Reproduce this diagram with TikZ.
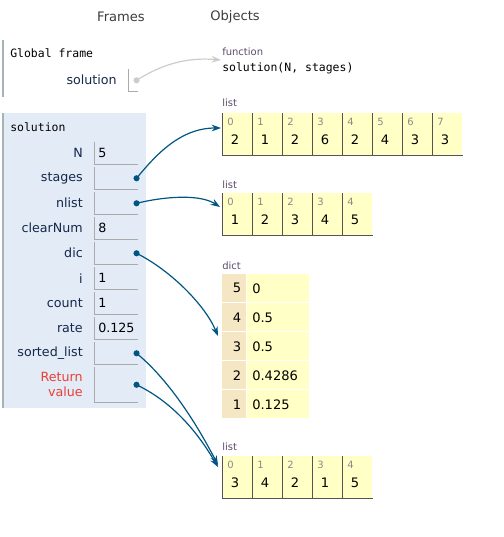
\documentclass[tikz,border=0pt]{standalone}
\usepackage{fontspec}
\setmainfont{DejaVu Sans}
\setmonofont{DejaVu Sans Mono}
\usetikzlibrary{arrows.meta, positioning, calc}

\definecolor{framebg}{HTML}{E2EBF6}
\definecolor{frameline}{HTML}{A6B3B6}
\definecolor{boxline}{HTML}{AAAAAA}
\definecolor{listbg}{HTML}{FFFFC6}
\definecolor{keybg}{HTML}{F5E6C4}
\definecolor{ptrblue}{HTML}{005583}
\definecolor{varcol}{HTML}{14284A}
\definecolor{typecol}{HTML}{5C4B6E}
\definecolor{idxcol}{HTML}{8A8A8A}
\definecolor{retred}{HTML}{E93F34}
\definecolor{hdrcol}{HTML}{3C3C3C}

\begin{document}
\begin{tikzpicture}[x=0.75pt, y=-0.75pt,
    every node/.style={inner sep=0pt},
    hdr/.style={text=hdrcol, font=\fontsize{9.8}{12}\selectfont},
    mono/.style={anchor=west, font=\ttfamily\fontsize{8.6}{10}\selectfont},
    varname/.style={anchor=east, text=varcol, font=\fontsize{9.5}{11.25}\selectfont},
    varbox/.style={minimum width=32.25pt, minimum height=16.5pt, anchor=north west},
    valtext/.style={anchor=west, font=\fontsize{9.5}{11.25}\selectfont},
    typelabel/.style={anchor=west, text=typecol, font=\fontsize{7.5}{9}\selectfont},
    listcell/.style={fill=listbg, minimum width=22.5pt, minimum height=31.5pt, anchor=north west},
    cellline/.style={draw=black!67, line width=0.75pt},
    idx/.style={anchor=west, text=idxcol, font=\fontsize{7.5}{9}\selectfont},
    elem/.style={font=\fontsize{9.8}{11.5}\selectfont},
    dkey/.style={fill=keybg, minimum width=18pt, minimum height=21pt, anchor=north west},
    dval/.style={fill=listbg, minimum width=46.5pt, minimum height=21pt, anchor=north west},
    ptr/.style={ptrblue, line width=0.9pt, -{Stealth[length=7pt, width=5pt]}},
  ]
  \useasboundingbox (0,0) rectangle (504,537);

  % headers
  \node[hdr] (hframes) at (121,17) {Frames};
  \node[hdr] (hobjects) at (235,17) {Objects};

  % global frame
  \draw[frameline, line width=0.75pt] (3,40) -- (3,97);
  \node[mono] (gname) at (10,53) {Global frame};
  \node[varname] (gsolname) at (117,80) {solution};
  \node[minimum width=6.75pt, minimum height=16.5pt, anchor=north west] (gsol) at (128,69) {};
  \draw[boxline, line width=0.75pt] (gsol.north west) -- (gsol.south west) -- (gsol.south east);
  \coordinate (dgsol) at ($(gsol.east)+(-1,0)$);
  \fill[black!20] (dgsol) circle[radius=2.3pt];

  % function object
  \node[typelabel] (ftype) at (222,52) {function};
  \node[mono] (fsig) at (222,68) {solution(N, stages)};
  \draw[black!20, line width=0.9pt, -{Stealth[length=7pt, width=5pt]}]
    (dgsol) .. controls +(24,-15) and +(-36,-3) .. ($(fsig.west)+(-1,-8)$);

  % solution frame
  \fill[framebg] (3,113) rectangle (146,408);
  \draw[frameline, line width=0.75pt] (3,113) -- (3,408);
  \node[mono] (fname) at (10,127) {solution};

  \foreach \nm/\txt/\val [count=\r from 0] in {N/N/5, stages/stages/{}, nlist/nlist/{},
      clear/clearNum/8, dic/dic/{}, i/i/1, count/count/1, rate/rate/0.125, sorted/sorted\_list/{}} {
    \node[varbox] (v\nm) at (94,{142+25*\r}) {};
    \draw[boxline, line width=0.75pt] (v\nm.north west) -- (v\nm.south west) -- (v\nm.south east);
    \node[varname] (n\nm) at ($(v\nm.west)+(-11,0)$) {\txt};
    \node[valtext] at ($(v\nm.west)+(4,0)$) {\val};
  }
  \node[varbox, minimum height=26.25pt] (vret) at (94,367) {};
  \draw[boxline, line width=0.75pt] (vret.north west) -- (vret.south west) -- (vret.south east);
  \node[varname, text=retred, align=right] (nret) at ($(vret.west)+(-11,0)$) {Return\\value};

  \foreach \nm in {stages, nlist, dic, sorted, ret} {
    \coordinate (d\nm) at ($(v\nm.east)+(-1,0)$);
    \fill[ptrblue] (d\nm) circle[radius=2.3pt];
  }

  % list: stages
  \node[typelabel] (ta) at (222,103) {list};
  \foreach \v [count=\k from 0] in {2,1,2,6,2,4,3,3} {
    \node[listcell] (sa\k) at ({222+30*\k},113) {};
    \draw[cellline] (sa\k.north west) -- (sa\k.south west) -- (sa\k.south east);
    \node[idx] at ($(sa\k.north west)+(5,9)$) {\k};
    \node[elem] at ($(sa\k.north west)+(13,27)$) {\v};
  }

  % list: nlist
  \node[typelabel] (tb) at (222,185) {list};
  \foreach \v [count=\k from 0] in {1,2,3,4,5} {
    \node[listcell] (nb\k) at ({222+30*\k},193) {};
    \draw[cellline] (nb\k.north west) -- (nb\k.south west) -- (nb\k.south east);
    \node[idx] at ($(nb\k.north west)+(5,9)$) {\k};
    \node[elem] at ($(nb\k.north west)+(13,27)$) {\v};
  }

  % dict
  \node[typelabel] (tc) at (222,266) {dict};
  \foreach \key/\val [count=\r from 0] in {5/0, 4/0.5, 3/0.5, 2/0.4286, 1/0.125} {
    \node[dkey] (dk\r) at (222,{274+29*\r}) {};
    \node[dval] (dv\r) at (247,{274+29*\r}) {};
    \node[elem, anchor=east] at ($(dk\r.east)+(-5,0)$) {\key};
    \node[elem, anchor=west] at ($(dv\r.west)+(5,0)$) {\val};
  }

  % list: sorted_list
  \node[typelabel] (td) at (222,447) {list};
  \foreach \v [count=\k from 0] in {3,4,2,1,5} {
    \node[listcell] (sd\k) at ({222+30*\k},456) {};
    \draw[cellline] (sd\k.north west) -- (sd\k.south west) -- (sd\k.south east);
    \node[idx] at ($(sd\k.north west)+(5,9)$) {\k};
    \node[elem] at ($(sd\k.north west)+(13,27)$) {\v};
  }

  % pointers
  \draw[ptr] (dstages) .. controls +(19,-23) and +(-41,0) .. ($(sa0.north west)+(-1,15)$);
  \draw[ptr] (dnlist) .. controls +(29,-7) and +(-20,-13) .. ($(nb0.north west)+(-2,14)$);
  \draw[ptr] (ddic) .. controls +(34,17) and +(-13,-31) .. ($(dk2.north west)+(-4,4)$);
  \draw[ptr] (dsorted) .. controls +(39,32) and +(-13,-25) .. ($(sd0.north west)+(-4,9)$);
  \draw[ptr] (dret) .. controls +(44,21) and +(-13,-22) .. ($(sd0.north west)+(-4,11)$);
\end{tikzpicture}
\end{document}
